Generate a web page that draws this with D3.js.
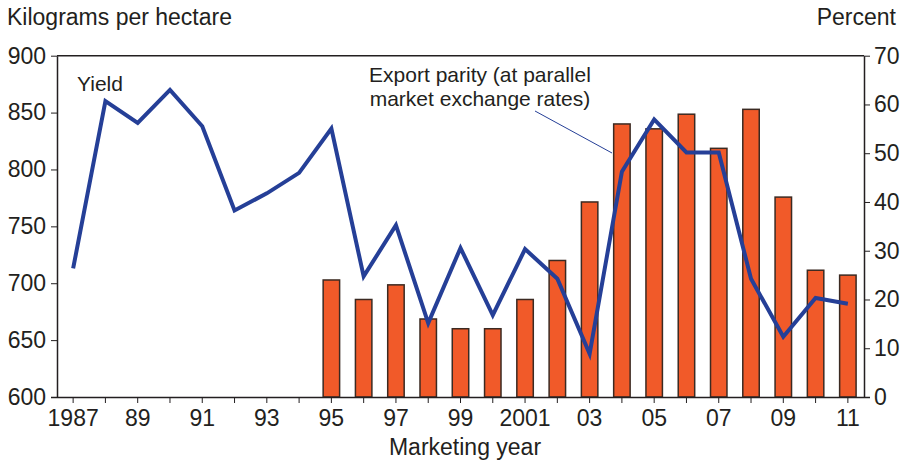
<!DOCTYPE html>
<html>
<head>
<meta charset="utf-8">
<script src="https://cdn.jsdelivr.net/npm/d3@7"></script>
<style>
  body { margin: 0; background: #fff; }
  text { font-family: "Liberation Sans", Arial, sans-serif; fill: #231f20; }
</style>
</head>
<body>
<div id="chart"></div>
<script>
// data
var years = d3.range(1987, 2012);
var yieldKg = [713, 860, 841, 870, 838, 764, 779, 797, 836, 706, 751, 665, 731, 672, 730,
               704, 638, 798, 844, 815, 815, 704, 653, 687, 682];
var parityYears = d3.range(1995, 2012);
var parityPct = [24, 20, 23, 16, 14, 14, 20, 28, 40, 56, 55, 58, 51, 59, 41, 26, 25];
var leftTicks = [600, 650, 700, 750, 800, 850, 900];
var rightTicks = [0, 10, 20, 30, 40, 50, 60, 70];
var xLabels = {1987: "1987", 1989: "89", 1991: "91", 1993: "93", 1995: "95", 1997: "97",
               1999: "99", 2001: "2001", 2003: "03", 2005: "05", 2007: "07", 2009: "09", 2011: "11"};

var svgWidth = 904, svgHeight = 463;
var margin = {top: 55.7, right: 40, bottom: 66, left: 57};
var width = svgWidth - margin.left - margin.right;
var height = svgHeight - margin.top - margin.bottom;

var svg = d3.select("#chart").append("svg")
  .attr("width", svgWidth)
  .attr("height", svgHeight);

var g = svg.append("g")
  .attr("transform", `translate(${margin.left}, ${margin.top})`);

// scales
var x = d3.scaleBand().domain(years).range([0, width]).paddingInner(0.49).paddingOuter(0.245);
var xc = d => x(d) + x.bandwidth() / 2;
var yLeft = d3.scaleLinear().domain([600, 900]).range([height, 0]);
var yRight = d3.scaleLinear().domain([0, 70]).range([height, 0]);

// bars
g.selectAll("rect.bar")
  .data(parityYears.map((yr, i) => ({yr: yr, v: parityPct[i]})))
  .enter().append("rect")
  .attr("class", "bar")
  .attr("x", d => x(d.yr))
  .attr("width", x.bandwidth())
  .attr("y", d => yRight(d.v))
  .attr("height", d => height - yRight(d.v))
  .attr("fill", "#f15a29")
  .attr("stroke", "#3b2a22")
  .attr("stroke-width", 1.5);

// yield line
var line = d3.line()
  .x((d, i) => xc(years[i]))
  .y(d => yLeft(d));
g.append("path")
  .datum(yieldKg)
  .attr("d", line)
  .attr("fill", "none")
  .attr("stroke", "#253f97")
  .attr("stroke-width", 4)
  .attr("stroke-linejoin", "miter");

// frame top
g.append("line")
  .attr("x1", 0).attr("x2", width).attr("y1", 0).attr("y2", 0)
  .attr("stroke", "#231f20").attr("stroke-width", 1.5);

// axes
var bottomAxis = d3.axisBottom(x).tickSizeInner(6).tickSizeOuter(0)
  .tickFormat(d => xLabels[d] || "");
var leftAxis = d3.axisLeft(yLeft).tickValues(leftTicks).tickSize(6).tickSizeOuter(0);
var rightAxis = d3.axisRight(yRight).tickValues(rightTicks).tickSize(6).tickSizeOuter(0);

function styleAxis(sel) {
  sel.select(".domain").attr("stroke", "#231f20").attr("stroke-width", 1.5);
  sel.selectAll(".tick line").attr("stroke", "#231f20").attr("stroke-width", 1);
  sel.selectAll(".tick text").style("font-size", "23px").attr("fill", "#231f20");
}

var gx = g.append("g").attr("transform", `translate(0, ${height})`).call(bottomAxis);
styleAxis(gx);
gx.selectAll(".tick text").attr("y", 13).attr("dy", "0.71em");
gx.select(".domain").attr("d", `M${-6},0.5H${width + 6}`);

var gl = g.append("g").call(leftAxis);
styleAxis(gl);
gl.selectAll(".tick text").attr("x", -11);

var gr = g.append("g").attr("transform", `translate(${width}, 0)`).call(rightAxis);
styleAxis(gr);
gr.selectAll(".tick text").attr("x", 10);

// titles
svg.append("text").attr("x", 7).attr("y", 25)
  .style("font-size", "23px").text("Kilograms per hectare");
svg.append("text").attr("x", 896).attr("y", 25).attr("text-anchor", "end")
  .style("font-size", "23px").text("Percent");
svg.append("text").attr("x", 465).attr("y", 455).attr("text-anchor", "middle")
  .style("font-size", "23px").text("Marketing year");

// annotations
svg.append("text").attr("x", 77).attr("y", 91)
  .style("font-size", "21px").text("Yield");
var ann = svg.append("text").attr("x", 480).attr("y", 82).attr("text-anchor", "middle")
  .style("font-size", "21px");
ann.append("tspan").attr("x", 480).text("Export parity (at parallel");
ann.append("tspan").attr("x", 480).attr("dy", 24).text("market exchange rates)");
svg.append("line")
  .attr("x1", 535).attr("y1", 111).attr("x2", 612).attr("y2", 153)
  .attr("stroke", "#253f97").attr("stroke-width", 1);
</script>
</body>
</html>
